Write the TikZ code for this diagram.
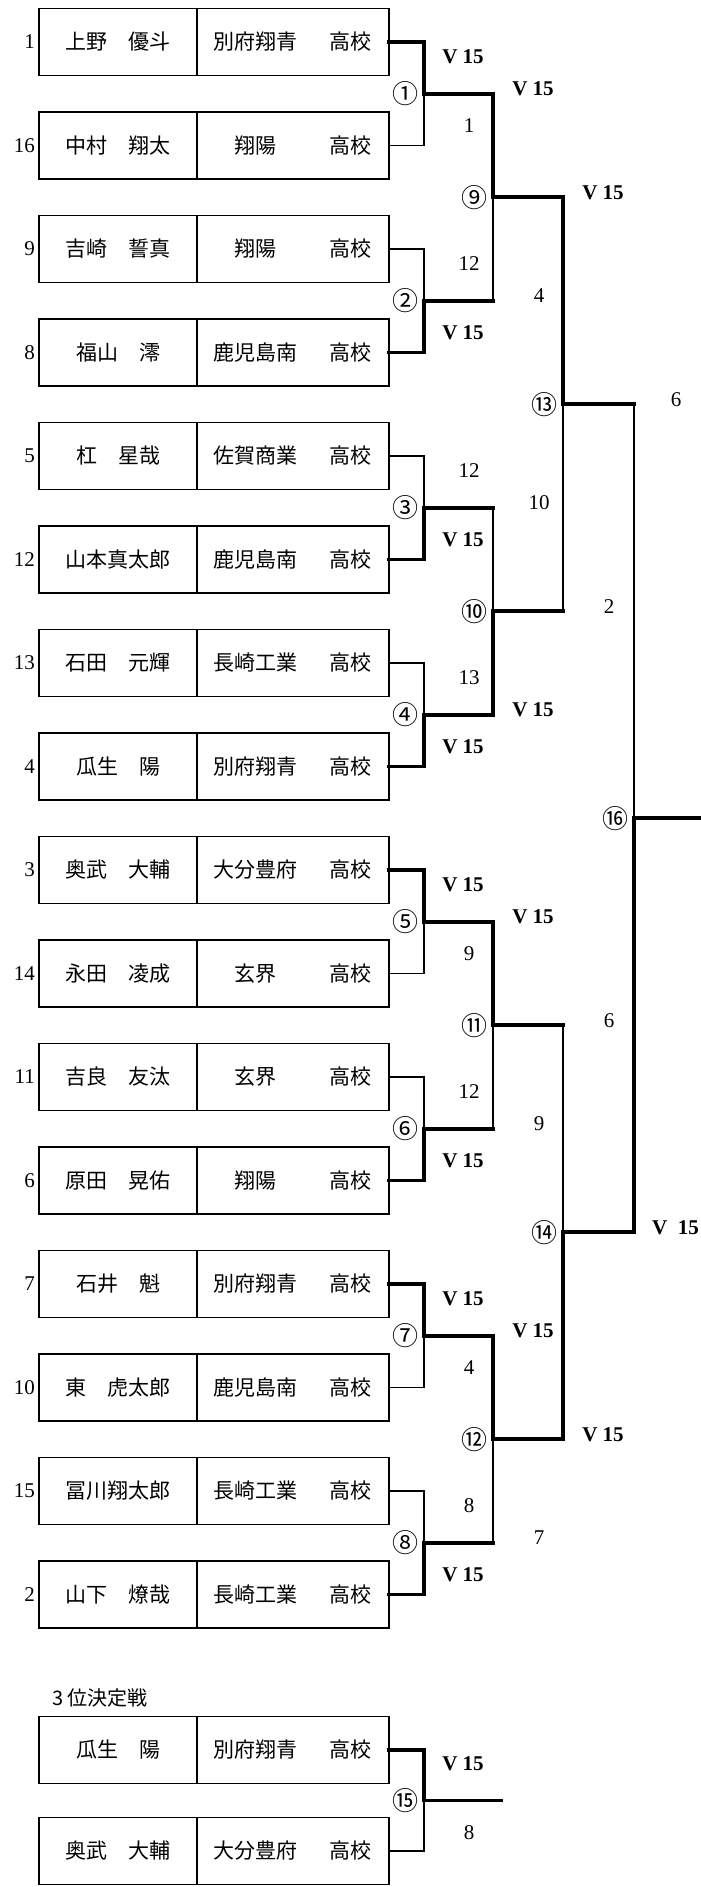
\documentclass[tikz,border=0pt]{standalone}
\usepackage{fontspec}
\setmainfont{Liberation Serif}
\newfontfamily\jpfont{Noto Sans CJK JP}
\usetikzlibrary{positioning}

\tikzset{
  namebox/.style={draw, line width=1.5pt, outer sep=0pt, inner sep=0pt,
    minimum width=158pt, minimum height=67pt, font=\jpfont\fontsize{21}{24}\selectfont},
  schoolbox/.style={namebox, minimum width=192pt},
  seed/.style={inner sep=0pt, font=\fontsize{21}{24}\selectfont},
  matchno/.style={inner sep=0pt, font=\jpfont\fontsize{26}{26}\selectfont},
  score/.style={inner sep=0pt, font=\fontsize{21}{24}\selectfont},
  vscore/.style={inner sep=0pt, font=\bfseries\fontsize{21}{24}\selectfont},
  win/.style={line width=3.6pt, line cap=rect},
  lose/.style={line width=1.8pt},
}
\newcommand{\school}[1]{\makebox[116pt]{#1}\makebox[76pt]{高校}}

\begin{document}
\begin{tikzpicture}[x=1pt,y=-1pt]
\useasboundingbox (0,0) rectangle (701,1887);

% first block
\node[namebox] (n1) at (118,42) {上野　優斗};
\node[schoolbox, right=0pt of n1] (s1) {\school{別府翔青}};
\node[seed, left=4pt of n1] (p1) {1};

\node[namebox] (n16) at (118,145.5) {中村　翔太};
\node[schoolbox, right=0pt of n16] (s16) {\school{翔陽}};
\node[seed, left=4pt of n16] (p16) {16};

\node[namebox] (n9) at (118,249) {吉崎　誓真};
\node[schoolbox, right=0pt of n9] (s9) {\school{翔陽}};
\node[seed, left=4pt of n9] (p9) {9};

\node[namebox] (n8) at (118,352.5) {福山　澪};
\node[schoolbox, right=0pt of n8] (s8) {\school{鹿児島南}};
\node[seed, left=4pt of n8] (p8) {8};

% second block
\node[namebox] (n5) at (118,456) {杠　星哉};
\node[schoolbox, right=0pt of n5] (s5) {\school{佐賀商業}};
\node[seed, left=4pt of n5] (p5) {5};

\node[namebox] (n12) at (118,559.5) {山本真太郎};
\node[schoolbox, right=0pt of n12] (s12) {\school{鹿児島南}};
\node[seed, left=4pt of n12] (p12) {12};

\node[namebox] (n13) at (118,663) {石田　元輝};
\node[schoolbox, right=0pt of n13] (s13) {\school{長崎工業}};
\node[seed, left=4pt of n13] (p13) {13};

\node[namebox] (n4) at (118,766.5) {瓜生　陽};
\node[schoolbox, right=0pt of n4] (s4) {\school{別府翔青}};
\node[seed, left=4pt of n4] (p4) {4};

% third block
\node[namebox] (n3) at (118,870) {奥武　大輔};
\node[schoolbox, right=0pt of n3] (s3) {\school{大分豊府}};
\node[seed, left=4pt of n3] (p3) {3};

\node[namebox] (n14) at (118,973.5) {永田　凌成};
\node[schoolbox, right=0pt of n14] (s14) {\school{玄界}};
\node[seed, left=4pt of n14] (p14) {14};

\node[namebox] (n11) at (118,1077) {吉良　友汰};
\node[schoolbox, right=0pt of n11] (s11) {\school{玄界}};
\node[seed, left=4pt of n11] (p11) {11};

\node[namebox] (n6) at (118,1180.5) {原田　晃佑};
\node[schoolbox, right=0pt of n6] (s6) {\school{翔陽}};
\node[seed, left=4pt of n6] (p6) {6};

% fourth block
\node[namebox] (n7) at (118,1284) {石井　魁};
\node[schoolbox, right=0pt of n7] (s7) {\school{別府翔青}};
\node[seed, left=4pt of n7] (p7) {7};

\node[namebox] (n10) at (118,1387.5) {東　虎太郎};
\node[schoolbox, right=0pt of n10] (s10) {\school{鹿児島南}};
\node[seed, left=4pt of n10] (p10) {10};

\node[namebox] (n15) at (118,1491) {冨川翔太郎};
\node[schoolbox, right=0pt of n15] (s15) {\school{長崎工業}};
\node[seed, left=4pt of n15] (p15) {15};

\node[namebox] (n2) at (118,1594.5) {山下　燎哉};
\node[schoolbox, right=0pt of n2] (s2) {\school{長崎工業}};
\node[seed, left=4pt of n2] (p2) {2};

% third place
\node[anchor=west, inner sep=0pt, font=\jpfont\fontsize{20}{20}\selectfont] (third) at (52,1698) {3 位決定戦};
\node[namebox] (n4b) at (118,1750) {瓜生　陽};
\node[schoolbox, right=0pt of n4b] (s4b) {\school{別府翔青}};
\node[namebox] (n3b) at (118,1851) {奥武　大輔};
\node[schoolbox, right=0pt of n3b] (s3b) {\school{大分豊府}};

% match points
\coordinate (m1) at (424,93.75);
\coordinate (m2) at (424,300.75);
\coordinate (m3) at (424,507.75);
\coordinate (m4) at (424,714.75);
\coordinate (m5) at (424,921.75);
\coordinate (m6) at (424,1128.75);
\coordinate (m7) at (424,1335.75);
\coordinate (m8) at (424,1542.75);
\coordinate (m9) at (493,197.25);
\coordinate (m10) at (493,611.25);
\coordinate (m11) at (493,1025.25);
\coordinate (m12) at (493,1439.25);
\coordinate (m13) at (563,404.25);
\coordinate (m14) at (563,1232.25);
\coordinate (m16) at (634,818.25);
\coordinate (m15) at (424,1800.5);
\coordinate (out16) at (705,818.25);
\coordinate (out15) at (501,1800.5);

\node[matchno, left=5pt of m1] (c1) {①};
\node[matchno, left=5pt of m2] (c2) {②};
\node[matchno, left=5pt of m3] (c3) {③};
\node[matchno, left=5pt of m4] (c4) {④};
\node[matchno, left=5pt of m5] (c5) {⑤};
\node[matchno, left=5pt of m6] (c6) {⑥};
\node[matchno, left=5pt of m7] (c7) {⑦};
\node[matchno, left=5pt of m8] (c8) {⑧};
\node[matchno, left=5pt of m9] (c9) {⑨};
\node[matchno, left=5pt of m10] (c10) {⑩};
\node[matchno, left=5pt of m11] (c11) {⑪};
\node[matchno, left=5pt of m12] (c12) {⑫};
\node[matchno, left=5pt of m13] (c13) {⑬};
\node[matchno, left=5pt of m14] (c14) {⑭};
\node[matchno, left=5pt of m16] (c16) {⑯};
\node[matchno, left=5pt of m15] (c15) {⑮};

% first round
\draw[win] (s1.east) -| (m1);
\draw[lose] (s16.east) -| (m1);
\draw[lose] (s9.east) -| (m2);
\draw[win] (s8.east) -| (m2);
\draw[lose] (s5.east) -| (m3);
\draw[win] (s12.east) -| (m3);
\draw[lose] (s13.east) -| (m4);
\draw[win] (s4.east) -| (m4);
\draw[win] (s3.east) -| (m5);
\draw[lose] (s14.east) -| (m5);
\draw[lose] (s11.east) -| (m6);
\draw[win] (s6.east) -| (m6);
\draw[win] (s7.east) -| (m7);
\draw[lose] (s10.east) -| (m7);
\draw[lose] (s15.east) -| (m8);
\draw[win] (s2.east) -| (m8);

% second round
\draw[win] (m1) -| (m9);
\draw[win] (m2) -- (m2 -| m9);
\draw[lose] (m2 -| m9) -- (m9);
\draw[win] (m3) -- (m3 -| m10);
\draw[lose] (m3 -| m10) -- (m10);
\draw[win] (m4) -| (m10);
\draw[win] (m5) -| (m11);
\draw[win] (m6) -- (m6 -| m11);
\draw[lose] (m6 -| m11) -- (m11);
\draw[win] (m7) -| (m12);
\draw[win] (m8) -- (m8 -| m12);
\draw[lose] (m8 -| m12) -- (m12);

% third round
\draw[win] (m9) -| (m13);
\draw[win] (m10) -- (m10 -| m13);
\draw[lose] (m10 -| m13) -- (m13);
\draw[win] (m11) -- (m11 -| m14);
\draw[lose] (m11 -| m14) -- (m14);
\draw[win] (m12) -| (m14);

% final
\draw[win] (m13) -- (m13 -| m16);
\draw[lose] (m13 -| m16) -- (m16);
\draw[win] (m14) -| (m16);
\draw[win] (m16) -- (out16);

% third place match
\draw[win] (s4b.east) -| (m15);
\draw[lose] (s3b.east) -| (m15);
\draw[win] (m15) -- (out15);

% scores, first round
\node[vscore] (sc1a) at (463,56.75) {V 15};
\node[score] (sc1b) at (469,125.75) {1};
\node[score] (sc2a) at (469,263.75) {12};
\node[vscore] (sc2b) at (463,332.75) {V 15};
\node[score] (sc3a) at (469,470.75) {12};
\node[vscore] (sc3b) at (463,539.75) {V 15};
\node[score] (sc4a) at (469,677.75) {13};
\node[vscore] (sc4b) at (463,746.75) {V 15};
\node[vscore] (sc5a) at (463,884.75) {V 15};
\node[score] (sc5b) at (469,953.75) {9};
\node[score] (sc6a) at (469,1091.75) {12};
\node[vscore] (sc6b) at (463,1160.75) {V 15};
\node[vscore] (sc7a) at (463,1298.75) {V 15};
\node[score] (sc7b) at (469,1367.75) {4};
\node[score] (sc8a) at (469,1505.75) {8};
\node[vscore] (sc8b) at (463,1574.75) {V 15};
\node[vscore] (sc15a) at (463,1763.5) {V 15};
\node[score] (sc15b) at (469,1832.5) {8};

% scores, second round
\node[vscore] (sc9a) at (533,88.75) {V 15};
\node[score] (sc9b) at (539,295.75) {4};
\node[score] (sc10a) at (539,502.75) {10};
\node[vscore] (sc10b) at (533,709.75) {V 15};
\node[vscore] (sc11a) at (533,916.75) {V 15};
\node[score] (sc11b) at (539,1123.75) {9};
\node[vscore] (sc12a) at (533,1330.75) {V 15};
\node[score] (sc12b) at (539,1537.75) {7};

% scores, third round and final
\node[vscore] (sc13a) at (603,192.25) {V 15};
\node[score] (sc13b) at (609,606.25) {2};
\node[score] (sc14a) at (609,1020.25) {6};
\node[vscore] (sc14b) at (603,1434.25) {V 15};
\node[score] (sc16a) at (676,399.25) {6};
\node[vscore, anchor=west] (sc16b) at (652,1227.25) {V\ \ 15};

\end{tikzpicture}
\end{document}
